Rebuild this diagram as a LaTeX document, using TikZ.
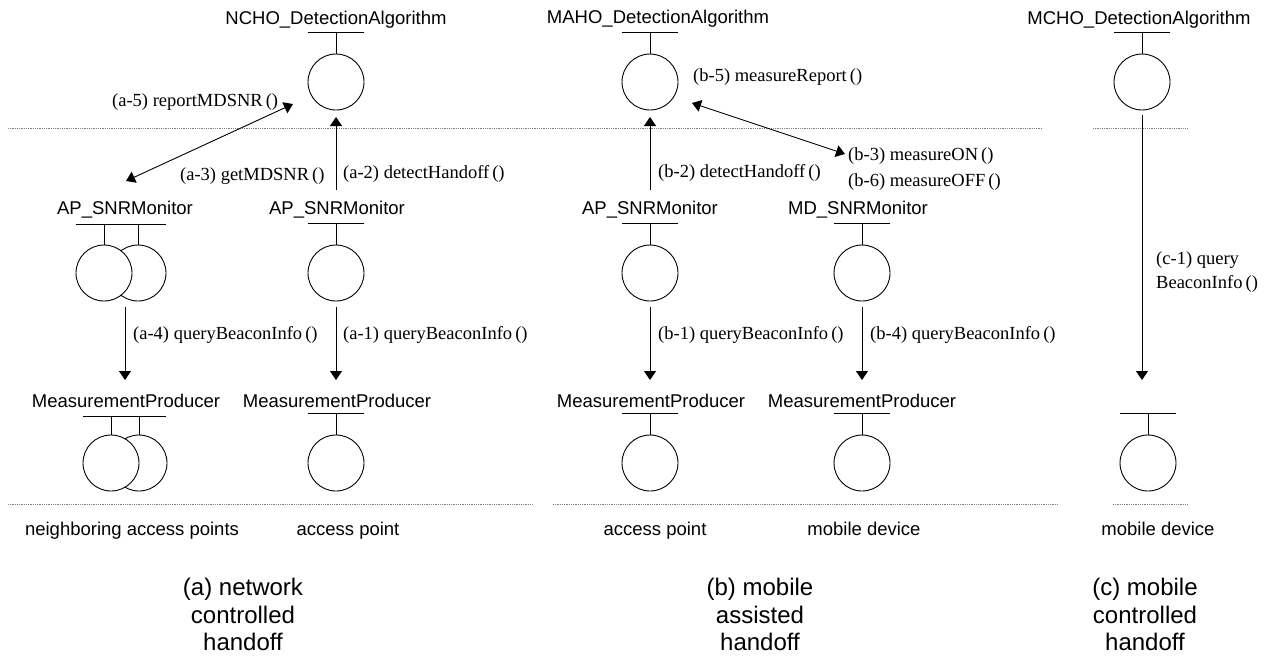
\documentclass[tikz,border=0pt]{standalone}
\usepackage{fontspec}
\setmainfont{Liberation Serif}
\newfontfamily\lsans{Liberation Sans}
\usetikzlibrary{arrows.meta}

\tikzset{
  lbl/.style={inner sep=0pt, anchor=base, font=\lsans\fontsize{18.5pt}{22pt}\selectfont},
  msg/.style={inner sep=0pt, anchor=base west, font=\rmfamily\fontsize{18.5pt}{22pt}\selectfont},
  caption text/.style={inner sep=0pt, anchor=north, align=center, font=\lsans\fontsize{24pt}{27.5pt}\selectfont},
  obj/.style={circle, draw, fill=white, minimum size=56pt, inner sep=0pt, line width=0.9pt},
  bar/.style={line width=0.9pt},
  call/.style={line width=0.9pt, -{Triangle[length=9pt,width=12pt]}},
  twoway/.style={line width=0.9pt, {Triangle[length=9pt,width=12pt]}-{Triangle[length=9pt,width=12pt]}},
  sep/.style={gray, line width=0.7pt, dash pattern=on 1pt off 0.8pt}
}

% single object: circle hanging from a short bar
\newcommand\umlobj[3]{%
  \node[obj] (#1) at (#2,#3) {};
  \draw[bar] ([yshift=21pt]#1.north) -- (#1.north);
  \draw[bar] ([xshift=-28pt,yshift=21pt]#1.north) -- ([xshift=28pt,yshift=21pt]#1.north);
}

\begin{document}
\begin{tikzpicture}[x=1pt,y=-1pt]
\useasboundingbox (0,0) rectangle (1268,656);

% ---------- layer separators ----------
\coordinate (t1) at (8,128);    \coordinate (t2) at (1043,128);
\coordinate (t3) at (1093,128); \coordinate (t4) at (1187,128);
\draw[sep] (t1) -- (t2);
\draw[sep] (t3) -- (t4);
\coordinate (u1) at (8,504);    \coordinate (u2) at (533,504);
\coordinate (u3) at (553,504);  \coordinate (u4) at (1058,504);
\coordinate (u5) at (1113,504); \coordinate (u6) at (1187,504);
\draw[sep] (u1) -- (u2);
\draw[sep] (u3) -- (u4);
\draw[sep] (u5) -- (u6);

% ---------- detection algorithms ----------
\node[lbl] (nchoL) at (336,24) {NCHO\_DetectionAlgorithm};
\umlobj{ncho}{336}{82}
\node[lbl] (mahoL) at (658,23) {MAHO\_DetectionAlgorithm};
\umlobj{maho}{650}{82}
\node[lbl] (mchoL) at (1139,24) {MCHO\_DetectionAlgorithm};
\umlobj{mcho}{1142}{82}

% ---------- SNR monitors ----------
\node[lbl] (apAnL) at (125,214) {AP\_SNRMonitor};
\node[obj] (apAn2) at (138,273) {};
\node[obj] (apAn1) at (104,273) {};
\draw[bar] (76,224) -- (166,224);
\draw[bar] (104,224) -- (apAn1.north);
\draw[bar] (138,224) -- (apAn2.north);

\node[lbl] (apAL) at (337,214) {AP\_SNRMonitor};
\umlobj{apA}{336}{273}
\node[lbl] (apBL) at (650,214) {AP\_SNRMonitor};
\umlobj{apB}{650}{273}
\node[lbl] (mdBL) at (858,214) {MD\_SNRMonitor};
\umlobj{mdB}{862}{273}

% ---------- measurement producers ----------
\node[lbl] (mpAnL) at (126,407) {MeasurementProducer};
\node[obj] (mpAn2) at (139,463) {};
\node[obj] (mpAn1) at (111,463) {};
\draw[bar] (83,416) -- (166,416);
\draw[bar] (111,416) -- (mpAn1.north);
\draw[bar] (139,416) -- (mpAn2.north);

\node[lbl] (mpAL) at (337,407) {MeasurementProducer};
\umlobj{mpA}{336}{463}
\node[lbl] (mpBL) at (651,407) {MeasurementProducer};
\umlobj{mpB}{650}{463}
\node[lbl] (mdpBL) at (862,407) {MeasurementProducer};
\umlobj{mdpB}{862}{463}
\umlobj{mdpC}{1148}{463}

% ---------- locations ----------
\node[lbl] at (132,535) {neighboring access points};
\node[lbl] at (348,535) {access point};
\node[lbl] at (655,535) {access point};
\node[lbl] at (864,535) {mobile device};
\node[lbl] at (1158,535) {mobile device};

% ---------- captions ----------
\node[caption text] at (243,578) {(a) network\\controlled\\handoff};
\node[caption text] at (760,578) {(b) mobile\\assisted\\handoff};
\node[caption text] at (1145,578) {(c) mobile\\controlled\\handoff};

% ---------- calls, (a) ----------
\coordinate (a4s) at (125,307); \coordinate (a4e) at (125,380);
\coordinate (a1s) at (336,307); \coordinate (a1e) at (336,380);
\coordinate (a2s) at (336,190); \coordinate (a2e) at (336,117);
\coordinate (a3e) at (126,181); \coordinate (a5e) at (293,104);
\draw[call] (a4s) -- (a4e);
\draw[call] (a1s) -- (a1e);
\draw[call] (a2s) -- (a2e);
\draw[twoway] (a3e) -- (a5e);
\node[msg] at (112,106) {(a-5) reportMDSNR\,()};
\node[msg] at (180,180) {(a-3) getMDSNR\,()};
\node[msg] at (343,178) {(a-2) detectHandoff\,()};
\node[msg] at (133,339) {(a-4) queryBeaconInfo\,()};
\node[msg] at (343,339) {(a-1) queryBeaconInfo\,()};

% ---------- calls, (b) ----------
\coordinate (b1s) at (650,307); \coordinate (b1e) at (650,380);
\coordinate (b4s) at (862,307); \coordinate (b4e) at (862,380);
\coordinate (b2s) at (650,190); \coordinate (b2e) at (650,117);
\coordinate (b5e) at (692,103); \coordinate (b3e) at (845,154);
\draw[call] (b1s) -- (b1e);
\draw[call] (b4s) -- (b4e);
\draw[call] (b2s) -- (b2e);
\draw[twoway] (b5e) -- (b3e);
\node[msg] at (693,81) {(b-5) measureReport\,()};
\node[msg] at (658,177) {(b-2) detectHandoff\,()};
\node[msg] at (848,160) {(b-3) measureON\,()};
\node[msg] at (848,186) {(b-6) measureOFF\,()};
\node[msg] at (658,339) {(b-1) queryBeaconInfo\,()};
\node[msg] at (870,339) {(b-4) queryBeaconInfo\,()};

% ---------- calls, (c) ----------
\coordinate (c1s) at (1142,115); \coordinate (c1e) at (1142,380);
\draw[call] (c1s) -- (c1e);
\node[msg] at (1156,264) {(c-1) query};
\node[msg] at (1156,288) {BeaconInfo\,()};
\end{tikzpicture}
\end{document}
